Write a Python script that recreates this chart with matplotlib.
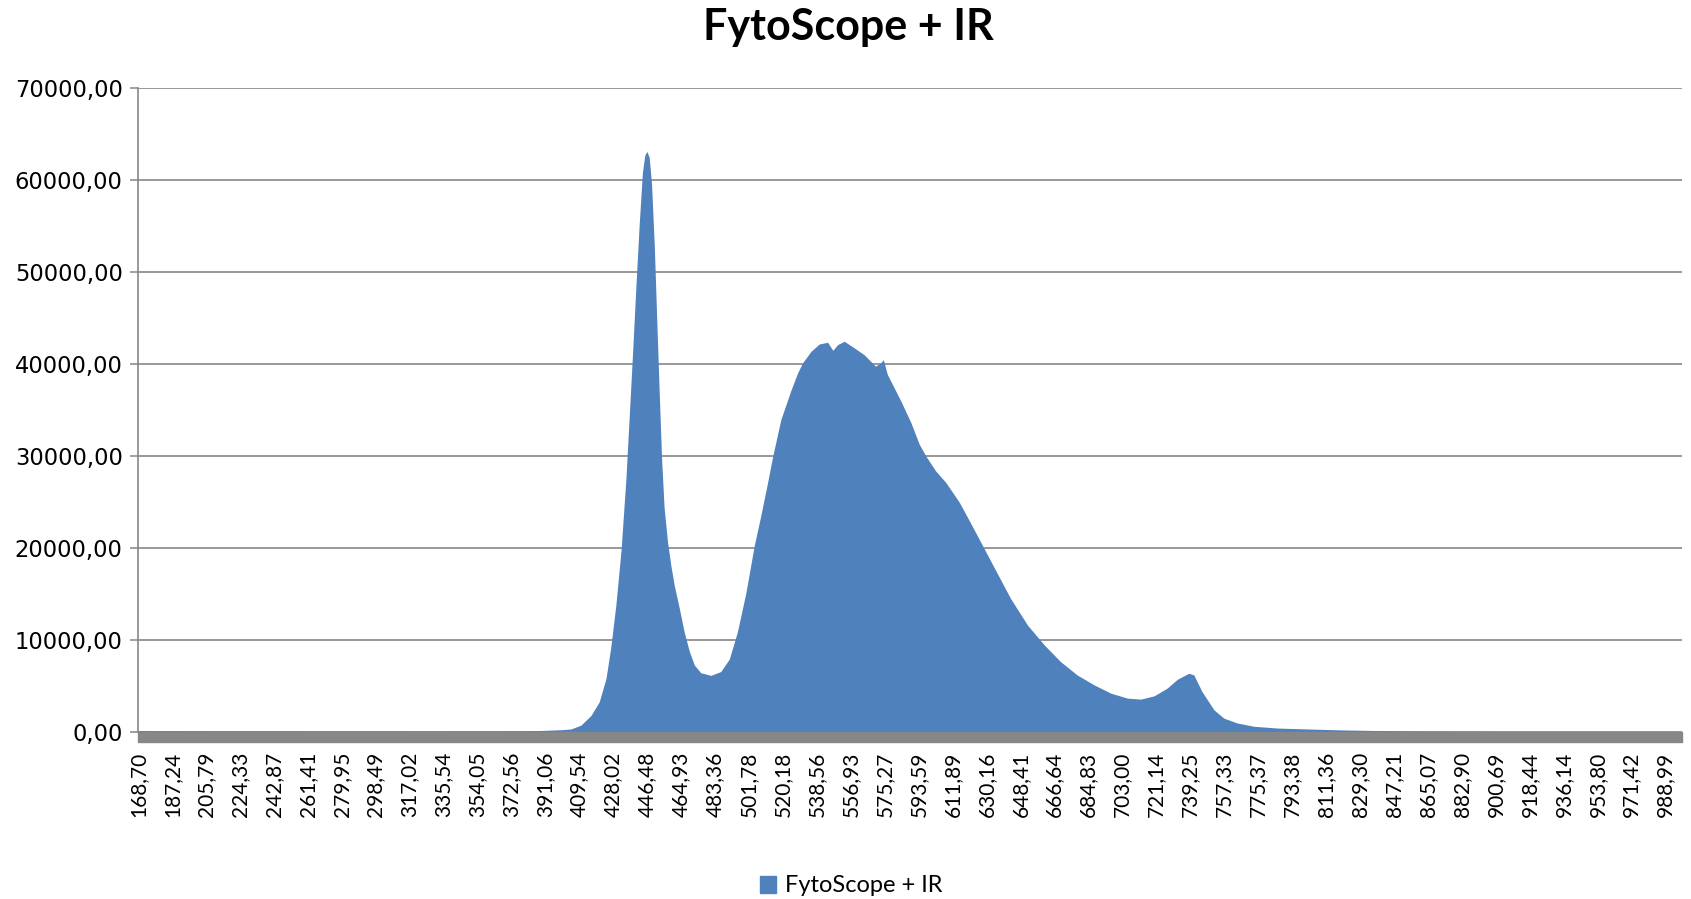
import matplotlib
matplotlib.use("Agg")
import matplotlib.pyplot as plt
from matplotlib.patches import Rectangle, Patch
import numpy as np

# category labels of the x axis (wavelength, nm)
tick_wl = [168.70, 187.24, 205.79, 224.33, 242.87, 261.41, 279.95, 298.49,
           317.02, 335.54, 354.05, 372.56, 391.06, 409.54, 428.02, 446.48,
           464.93, 483.36, 501.78, 520.18, 538.56, 556.93, 575.27, 593.59,
           611.89, 630.16, 648.41, 666.64, 684.83, 703.00, 721.14, 739.25,
           757.33, 775.37, 793.38, 811.36, 829.30, 847.21, 865.07, 882.90,
           900.69, 918.44, 936.14, 953.80, 971.42, 988.99]

# spectrum
wavelength = [168.7, 250.0, 330.0, 372.6, 387.0, 400.0, 405.0, 410.4, 415.9,
              420.4, 424.1, 426.7, 429.5, 432.3, 434.9, 436.7, 438.6, 440.4,
              442.2, 443.9, 445.2, 446.3, 447.6, 448.9, 450.4, 451.8, 453.1,
              454.3, 455.7, 457.6, 459.4, 461.2, 464.0, 466.6, 469.4, 472.1,
              475.6, 481.1, 486.5, 491.1, 495.5, 500.1, 504.6, 508.2, 511.9,
              514.7, 519.1, 524.4, 528.1, 530.8, 535.4, 539.9, 544.4, 547.2,
              549.8, 553.4, 558.8, 564.1, 570.3, 573.1, 574.5, 576.7, 584.0,
              589.4, 593.9, 597.4, 602.7, 608.2, 615.5, 621.8, 628.9, 636.0,
              643.1, 652.2, 661.2, 669.9, 678.8, 687.9, 696.8, 705.7, 712.8,
              720.0, 726.9, 732.4, 738.5, 741.2, 745.5, 751.9, 757.1, 764.4,
              773.2, 785.6, 803.1, 820.9, 855.8, 900.0, 950.0, 997.6]
intensity = [150, 120, 110, 120, 150, 250, 330, 740, 1790,
             3270, 5810, 9190, 13840, 19750, 27370, 34130, 41320, 48500,
             55260, 60760, 62660, 63080, 62450, 59490, 52730, 44270, 36670,
             29900, 24400, 20600, 18070, 15950, 13420, 10880, 8770, 7290,
             6440, 6150, 6570, 7920, 10880, 15110, 20200, 23510, 27120,
             30000, 33970, 37050, 39000, 40100, 41360, 42160, 42340, 41470,
             42090, 42450, 41730, 41000, 39740, 40100, 40460, 38840, 35950,
             33610, 31270, 30000, 28380, 27120, 24960, 22610, 19910, 17200,
             14500, 11610, 9450, 7650, 6200, 5120, 4220, 3680, 3570,
             3930, 4760, 5730, 6380, 6200, 4400, 2410, 1510, 970,
             620, 430, 320, 220, 100, 60, 40, 30]

series_name = "FytoScope + IR"
blue = "#4F81BD"
grey = "#868686"

# wavelength -> category position (labels are evenly spaced)
ext_wl = tick_wl + [tick_wl[-1] + (tick_wl[-1] - tick_wl[-2])]
ext_idx = np.arange(len(ext_wl))
x = np.interp(wavelength, ext_wl, ext_idx)

fig = plt.figure(figsize=(16.91, 8.99), dpi=100)
ax = fig.add_axes([138 / 1691, 1 - 732 / 899, (1682 - 138) / 1691, (732 - 87.7) / 899])

ax.fill_between(x, intensity, 0, color=blue, linewidth=0, zorder=2)

ax.set_xlim(0, np.interp(997.6, ext_wl, ext_idx))
ax.set_ylim(0, 70000)

yt = np.arange(0, 70001, 10000)
ax.set_yticks(yt)
ax.set_yticklabels([f"{v:.2f}".replace(".", ",") for v in yt],
                   fontsize=16.3, family="DejaVu Sans")
ax.tick_params(axis="y", length=6, width=1.1, color=grey, pad=5)
ax.yaxis.grid(True, color=grey, linewidth=1.2, zorder=1)
ax.set_axisbelow(True)

ax.set_xticks(np.arange(len(tick_wl)))
ax.set_xticklabels([f"{w:.2f}".replace(".", ",") for w in tick_wl],
                   rotation=90, fontsize=15, family="Lato", va="top")
ax.tick_params(axis="x", length=0, pad=14)

for s in ["top", "right", "bottom"]:
    ax.spines[s].set_visible(False)
ax.spines["left"].set_color(grey)
ax.spines["left"].set_linewidth(1.2)

# thick grey category axis under the area
bar_h = 10 / (732 - 87.7)
ax.add_patch(Rectangle((0, -bar_h), 1, bar_h, transform=ax.transAxes,
                       color="#878787", clip_on=False, zorder=3))

fig.text(848 / 1691, 1 - 27 / 899, series_name, ha="center", va="center",
         fontsize=31, fontweight="bold", family="Lato")

fig.legend(handles=[Patch(color=blue, label=series_name)], loc="center",
           bbox_to_anchor=(851 / 1691, 1 - 886 / 899), frameon=False,
           prop={"family": "Lato", "size": 17}, handlelength=0.7,
           handleheight=0.7, handletextpad=0.35, borderpad=0)

fig.savefig("out.png", dpi=100)
